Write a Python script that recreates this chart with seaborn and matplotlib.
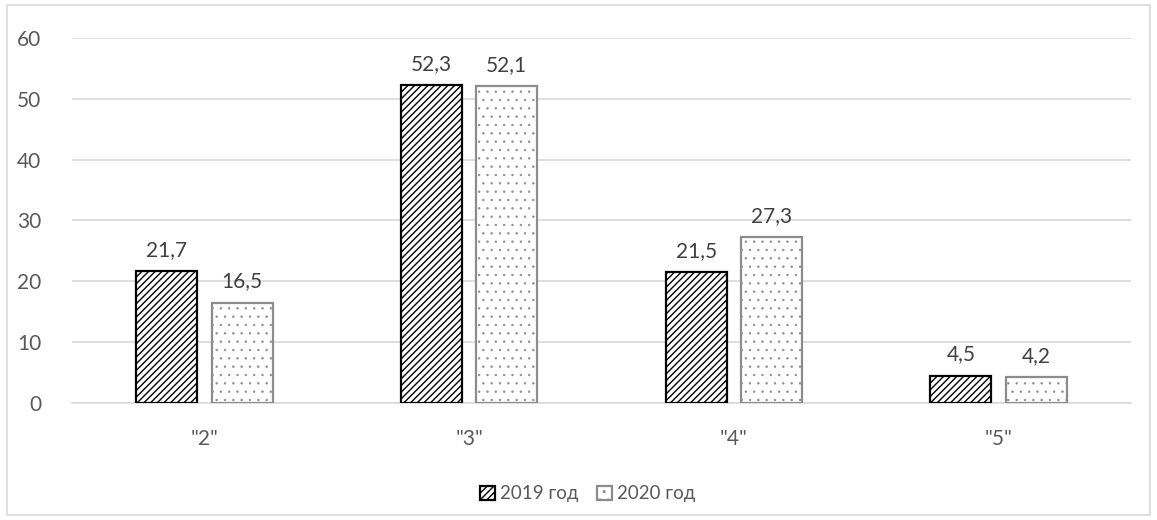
import seaborn as sns
import pandas as pd
import matplotlib.pyplot as plt
from matplotlib.patches import Rectangle

grades = ['"2"', '"3"', '"4"', '"5"']
years = ["2019 год", "2020 год"]
values_2019 = [21.7, 52.3, 21.5, 4.5]
values_2020 = [16.5, 52.1, 27.3, 4.2]

df = pd.DataFrame({
    "grade": grades * 2,
    "year": [years[0]] * 4 + [years[1]] * 4,
    "value": values_2019 + values_2020,
})

sns.set_style("white")
plt.rcParams["font.family"] = ["Lato", "DejaVu Sans"]
plt.rcParams["hatch.linewidth"] = 1.0

txt = "#595959"
grid = "#d9d9d9"

fig = plt.figure(figsize=(11.57, 5.2), dpi=100)
ax = fig.add_axes([0.0622, 0.225, 0.9153, 0.702])

sns.barplot(data=df, x="grade", y="value", hue="year", order=grades,
            hue_order=years, palette=["white", "white"], width=0.57,
            gap=0.19, legend=False, ax=ax, errorbar=None)

# hatch style per year: edge colour, pattern, hatch line width
styles = [("black", "/////", 1.0), ("#8c8c8c", "..", 0.5)]
for cont, (ec, hatch, hlw) in zip(ax.containers, styles):
    for p in cont.patches:
        p.set_edgecolor(ec)
        p.set_hatch(hatch)
        if hasattr(p, "set_hatch_linewidth"):
            p.set_hatch_linewidth(hlw)
        p.set_linewidth(1.6)
        p.set_zorder(3)
    ax.bar_label(cont, labels=[f"{v:.1f}".replace(".", ",") for v in cont.datavalues],
                 padding=8, fontsize=15, color="#404040")

ax.set_ylim(0, 60)
ax.set_xlim(-0.5, 3.5)
ax.set_yticks(range(0, 61, 10))
ax.yaxis.grid(True, color=grid, linewidth=1.2, zorder=0)
ax.set_axisbelow(True)
ax.set_xlabel("")
ax.set_ylabel("")
for s in ["top", "right", "left"]:
    ax.spines[s].set_visible(False)
ax.spines["bottom"].set_color(grid)
ax.spines["bottom"].set_linewidth(1.2)
ax.tick_params(axis="y", length=0, pad=22, labelsize=15, labelcolor=txt)
ax.tick_params(axis="x", length=0, pad=19, labelsize=15, labelcolor=txt)

fig.legend(ax.containers, years, loc="center", bbox_to_anchor=(0.508, 0.05),
           ncol=2, frameon=False, fontsize=13.5, labelcolor=txt,
           handlelength=0.8, handleheight=0.8, handletextpad=0.25,
           columnspacing=1.0)

fig.patches.append(Rectangle((0.006, 0.01), 0.988, 0.98, transform=fig.transFigure,
                             fill=False, edgecolor=grid, linewidth=1.2))

fig.savefig("out.png", dpi=100)
